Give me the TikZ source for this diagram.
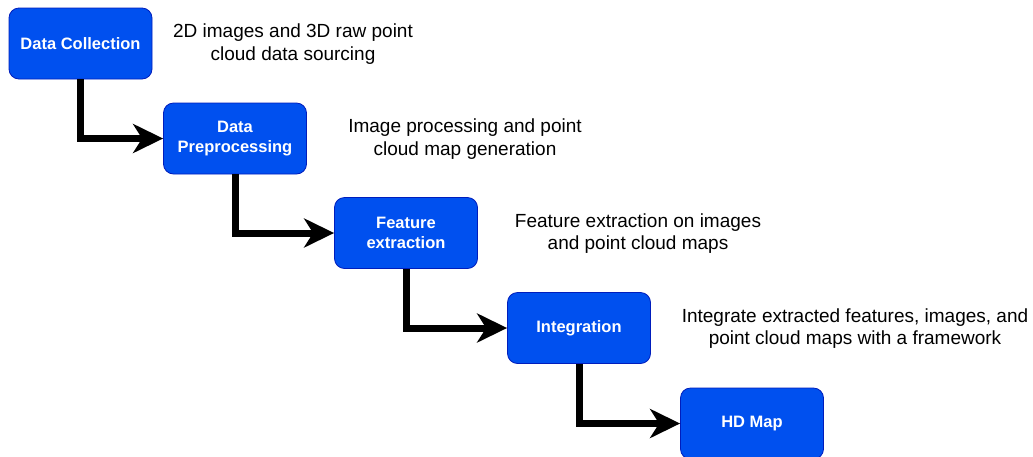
\documentclass[tikz,border=0pt]{standalone}
\usepackage{fontspec}
\setmainfont{Liberation Sans}
\usetikzlibrary{arrows.meta,positioning}
\definecolor{stagefill}{HTML}{0050EF}
\definecolor{stageline}{HTML}{001DBC}

\begin{document}
\begin{tikzpicture}[x=1pt, y=-1pt,
    stagebox/.style={draw=stageline, fill=stagefill, rounded corners=10pt, line width=.8pt,
      minimum width=143pt, minimum height=71pt, text=white, align=center,
      font=\fontsize{16.5}{20}\selectfont\bfseries},
    note/.style={align=center, font=\fontsize{19}{22.5}\selectfont, text=black},
    flow/.style={-{Stealth[length=30pt, width=29pt, inset=9pt]}, line width=7pt}]
    \useasboundingbox (0,0) rectangle (1033,456);
    % stages
    \node[stagebox] (collect) at (80.5,43.5) {Data Collection};
    \node[stagebox] (prep) at (235,138.5) {Data\\Preprocessing};
    \node[stagebox] (feat) at (406,233) {Feature\\extraction};
    \node[stagebox] (integ) at (579,328) {Integration};
    \node[stagebox] (hdmap) at (752,423.5) {HD Map};
    % notes
    \node[note] (n1) at (293,44) {2D images and 3D raw point\\cloud data sourcing};
    \node[note] (n2) at (465,139) {Image processing and point\\cloud map generation};
    \node[note] (n3) at (638,233.5) {Feature extraction on images\\and point cloud maps};
    \node[note] (n4) at (855,328.5) {Integrate extracted features, images, and\\point cloud maps with a framework};
    % connectors
    \draw[flow] (collect.south) |- (prep.west);
    \draw[flow] (prep.south) |- (feat.west);
    \draw[flow] (feat.south) |- (integ.west);
    \draw[flow] (integ.south) |- (hdmap.west);
\end{tikzpicture}
\end{document}
